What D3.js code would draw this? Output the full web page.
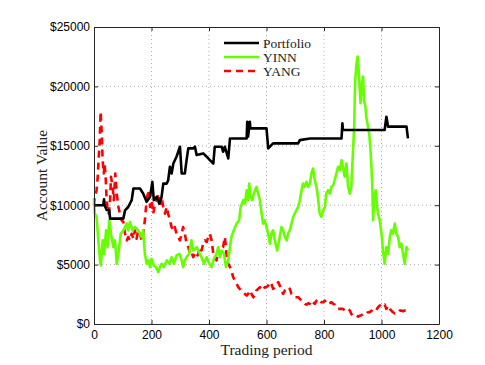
<!DOCTYPE html>
<html>
<head>
<meta charset="utf-8">
<script src="https://cdn.jsdelivr.net/npm/d3@7"></script>
<style>
  body { margin: 0; background: #fff; }
  #chart { width: 485px; height: 365px; }
</style>
</head>
<body>
<div id="chart"></div>
<script>
// [trading period, account value]
var portfolio = [[0,10000],[32,10000],[35,10500],[37,10000],[44,9600],[53,9600],[56,8870],[102,8870],[108,9570],[119,9850],[131,10420],[137,11400],[160,11400],[171,10980],[183,10280],[195,10700],[203,11960],[208,10420],[218,10700],[227,10130],[235,10700],[241,11820],[253,11820],[258,12100],[264,13230],[270,12670],[276,13510],[287,14080],[299,14920],[305,12670],[316,12670],[322,13790],[328,14780],[345,14780],[351,14920],[357,14220],[380,14360],[392,14080],[403,13790],[415,13510],[420,14920],[444,14920],[449,14500],[455,14920],[467,13940],[473,15620],[531,15620],[533,17030],[536,15770],[542,17030],[544,16470],[600,16470],[606,14780],[623,15200],[710,15200],[716,15480],[751,15620],[861,15620],[864,16890],[866,16330],[1011,16330],[1017,17450],[1023,16610],[1087,16610],[1092,15620]];

var yinn = [[0,10560],[3,9290],[9,9010],[15,7040],[21,5350],[24,4930],[30,7040],[35,5910],[42,7880],[47,6470],[53,8730],[59,7600],[67,6470],[73,7040],[79,5070],[85,5910],[93,7600],[102,7880],[114,8450],[119,7880],[125,8590],[134,7880],[142,8160],[154,7880],[166,7320],[171,7880],[177,5910],[183,5070],[189,5350],[195,4790],[200,5490],[208,4930],[215,4790],[224,4360],[229,4790],[235,5070],[243,4790],[253,5350],[262,5070],[270,5630],[278,5070],[287,5770],[297,5910],[305,5350],[310,4790],[316,5350],[322,5630],[331,5910],[339,7040],[345,6190],[357,6470],[368,5910],[374,5630],[382,5070],[392,5630],[401,5070],[409,4790],[415,5350],[420,5630],[426,5910],[432,6470],[438,5630],[444,6190],[452,5910],[459,4790],[467,5350],[473,6470],[478,7320],[486,7880],[496,8450],[505,8730],[510,9850],[519,10420],[525,10130],[531,11260],[536,10420],[540,11820],[544,10700],[551,10420],[556,10980],[565,11540],[571,10980],[577,10420],[583,9290],[588,8450],[594,8730],[600,8160],[606,7600],[612,6760],[617,7600],[623,7880],[629,7040],[637,6190],[644,7040],[652,8160],[658,7880],[664,7320],[670,7040],[675,7600],[681,7880],[693,9010],[704,9570],[710,9850],[716,10420],[722,11260],[727,11820],[733,11540],[739,11960],[745,11540],[751,11820],[756,12670],[762,13090],[768,12100],[774,11540],[780,10420],[785,9290],[791,9010],[797,9570],[803,9850],[808,10980],[814,11260],[820,10980],[826,11540],[832,11680],[837,12100],[843,12670],[849,13230],[855,12950],[861,13790],[866,13230],[872,12390],[878,13510],[884,11540],[890,10980],[895,11540],[901,14640],[905,16610],[908,20270],[913,21960],[917,22520],[922,20830],[927,18580],[931,19990],[936,20830],[939,18860],[944,18300],[947,17450],[953,16610],[957,16050],[961,14920],[965,13230],[968,11540],[971,8730],[974,10420],[980,11260],[985,9850],[988,9290],[994,8730],[1000,7600],[1005,6190],[1011,5070],[1017,6470],[1023,5910],[1029,7320],[1034,7880],[1040,7600],[1046,8450],[1052,7600],[1058,7320],[1063,6470],[1069,6760],[1075,5910],[1081,5070],[1087,6470],[1092,6190]];

var yang = [[0,9990],[3,10700],[9,11260],[13,12390],[16,13790],[20,15480],[23,17880],[27,16050],[30,13790],[34,12670],[37,13510],[41,12100],[44,10420],[47,9850],[51,9290],[56,10420],[59,12390],[65,11540],[69,10420],[74,12670],[79,10980],[85,9850],[90,9290],[96,8730],[102,8590],[108,7600],[114,7040],[119,7320],[125,7040],[131,7600],[137,7180],[142,7880],[148,7180],[154,7880],[160,7600],[166,7040],[171,7600],[177,8730],[183,10420],[189,11260],[195,9850],[200,10420],[206,9290],[212,10130],[218,10420],[224,10980],[229,9850],[235,10700],[241,9850],[247,9290],[253,9850],[258,9290],[264,8730],[270,8160],[276,7880],[281,8160],[287,7600],[293,7320],[299,7040],[305,7600],[310,8160],[316,7600],[322,6760],[328,6470],[334,5910],[339,6050],[345,5630],[351,5910],[357,5630],[363,5910],[368,6470],[374,6190],[380,6760],[386,7040],[392,6900],[397,7320],[403,7600],[409,7040],[415,5910],[420,5630],[426,5350],[432,6190],[438,5910],[444,6330],[449,6470],[455,7320],[459,6470],[461,5630],[467,5070],[473,4790],[478,4500],[484,3940],[490,3660],[496,3380],[502,3100],[507,2960],[513,2820],[519,2670],[525,2530],[531,2390],[536,2530],[542,2820],[548,2530],[554,2250],[559,2390],[565,2820],[571,2960],[577,3100],[583,2960],[588,2820],[594,3100],[600,3100],[606,3240],[612,3520],[617,3380],[623,2960],[629,3100],[635,3380],[641,3520],[646,3240],[652,2820],[658,2530],[664,2820],[670,2960],[675,3100],[681,2960],[687,2530],[693,2390],[698,2250],[704,2250],[710,2250],[716,2110],[722,1970],[727,1830],[733,1690],[739,1630],[745,1750],[751,1690],[756,1550],[762,1830],[768,1690],[774,1970],[780,2110],[785,1970],[791,1830],[797,1830],[803,1970],[808,1690],[814,1690],[820,1750],[826,1830],[832,1690],[837,1630],[843,1410],[849,1270],[855,1270],[861,1270],[866,1270],[872,1130],[878,1130],[884,1270],[890,1130],[895,840],[901,700],[907,620],[913,700],[919,620],[924,700],[930,730],[936,840],[942,900],[947,840],[953,990],[959,990],[965,1130],[971,990],[976,1130],[982,1180],[988,1410],[994,1550],[1000,1690],[1005,1550],[1011,1630],[1017,1270],[1023,1550],[1029,1270],[1034,1130],[1040,990],[1046,900],[1052,990],[1058,990],[1063,1130],[1069,1130],[1075,1080],[1081,1130],[1087,1130],[1092,1130]];

var seriesNames = ["Portfolio", "YINN", "YANG"];
var xTicks = [0, 200, 400, 600, 800, 1000, 1200];
var yTicks = [0, 5000, 10000, 15000, 20000, 25000];

function init() {
    var margin = { top: 27, right: 46, bottom: 41, left: 94 };
    var width = 485 - margin.left - margin.right;
    var height = 365 - margin.top - margin.bottom;

    var svg = d3.select("#chart")
        .append("svg")
        .attr("width", 485)
        .attr("height", 365)
        .append("g")
        .attr("transform", "translate(" + margin.left + "," + margin.top + ")");

    var xScale = d3.scaleLinear().domain([0, 1200]).range([0, width]);
    var yScale = d3.scaleLinear().domain([0, 25000]).range([height, 0]);

    // dotted grid
    svg.append("g").selectAll("line")
        .data(xTicks.slice(1, -1))
        .enter().append("line")
        .attr("x1", d => xScale(d)).attr("x2", d => xScale(d))
        .attr("y1", 0).attr("y2", height)
        .attr("stroke", "#999").attr("stroke-width", 0.8)
        .attr("stroke-dasharray", "1,3");
    svg.append("g").selectAll("line")
        .data(yTicks.slice(1, -1))
        .enter().append("line")
        .attr("y1", d => yScale(d)).attr("y2", d => yScale(d))
        .attr("x1", 0).attr("x2", width)
        .attr("stroke", "#999").attr("stroke-width", 0.8)
        .attr("stroke-dasharray", "1,3");

    var line = d3.line()
        .x(d => xScale(d[0]))
        .y(d => yScale(d[1]));

    var series = [
        { name: seriesNames[0], data: portfolio, color: "#000000", dash: null, w: 2.6 },
        { name: seriesNames[1], data: yinn, color: "#66ff00", dash: null, w: 2.6 },
        { name: seriesNames[2], data: yang, color: "#ff0000", dash: "7,5", w: 2.6 }
    ];

    [series[2], series[1], series[0]].forEach(function (s) {
        svg.append("path")
            .datum(s.data)
            .attr("fill", "none")
            .attr("stroke", s.color)
            .attr("stroke-width", s.w)
            .attr("stroke-linejoin", "round")
            .attr("stroke-dasharray", s.dash)
            .attr("d", line);
    });

    // axes, ticks inside (matlab style)
    svg.append("g")
        .attr("transform", "translate(0," + height + ")")
        .call(d3.axisBottom(xScale).tickValues(xTicks).tickSize(-4).tickPadding(6).tickSizeOuter(0)
            .tickFormat(d3.format("d")));
    svg.append("g")
        .call(d3.axisLeft(yScale).tickValues(yTicks).tickSize(-4).tickPadding(4).tickSizeOuter(0)
            .tickFormat(d => "$" + d));
    svg.append("g")
        .call(d3.axisTop(xScale).tickValues(xTicks).tickSize(-4).tickFormat("").tickSizeOuter(0));
    svg.append("g")
        .attr("transform", "translate(" + width + ",0)")
        .call(d3.axisRight(yScale).tickValues(yTicks).tickSize(-4).tickFormat("").tickSizeOuter(0));

    svg.selectAll(".domain, .tick line").attr("stroke", "#262626");
    svg.selectAll(".tick text")
        .attr("fill", "#000")
        .style("font-family", "'Liberation Sans', Arial, sans-serif")
        .style("font-size", "12px");

    // axis titles
    svg.append("text")
        .attr("x", width / 2)
        .attr("y", height + 31)
        .attr("text-anchor", "middle")
        .style("font-family", "'Liberation Serif', 'DejaVu Serif', serif")
        .style("font-size", "15.5px")
        .attr("fill", "#222")
        .text("Trading period");
    svg.append("text")
        .attr("transform", "translate(-47," + (height / 2) + ") rotate(-90)")
        .attr("text-anchor", "middle")
        .style("font-family", "'Liberation Serif', 'DejaVu Serif', serif")
        .style("font-size", "15.5px")
        .attr("fill", "#222")
        .text("Account Value");

    // legend
    var legend = svg.append("g").attr("transform", "translate(130,16)");
    series.forEach(function (s, i) {
        var g = legend.append("g").attr("transform", "translate(0," + (i * 14) + ")");
        g.append("line")
            .attr("x1", 0).attr("x2", 35).attr("y1", 0).attr("y2", 0)
            .attr("stroke", s.color)
            .attr("stroke-width", s.w)
            .attr("stroke-dasharray", s.dash);
        g.append("text")
            .attr("x", 39).attr("y", 4.5)
            .style("font-family", "'Liberation Serif', 'DejaVu Serif', serif")
            .style("font-size", "13.5px")
            .attr("fill", "#222")
            .text(s.name);
    });
}

window.onload = init;
</script>
</body>
</html>
